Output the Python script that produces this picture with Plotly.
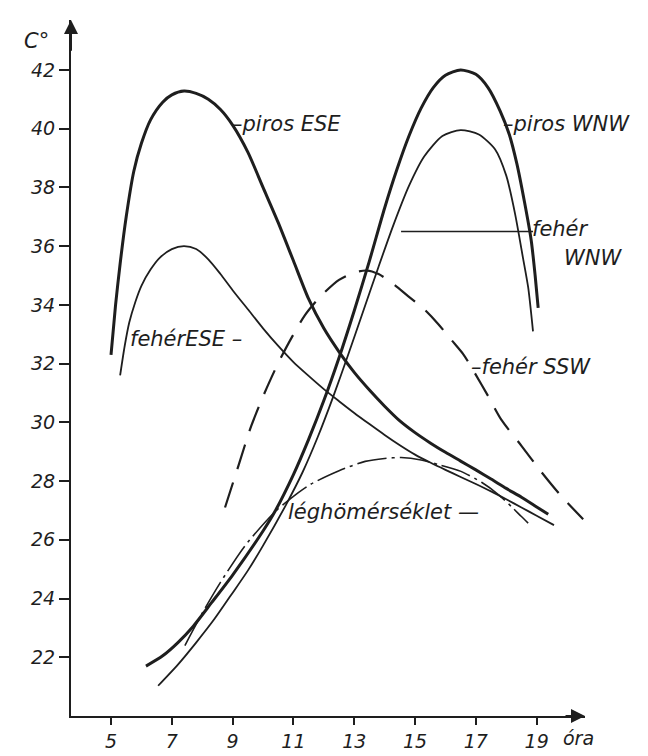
import plotly.graph_objects as go

# hours (óra) and temperatures (C°)
piros_ese_h = [5.0, 5.15, 5.3, 5.5, 5.75, 6.0, 6.3, 6.7, 7.0, 7.4, 7.8, 8.2, 8.6, 9.0, 9.5, 10.0, 10.5, 11.0, 11.5,
               12.0, 12.5, 13.0, 13.5, 14.0, 14.5, 15.0, 15.5, 16.0, 16.5, 17.0, 17.5, 18.0, 18.5, 19.0, 19.38]
piros_ese_t = [32.3, 34.0, 35.4, 37.0, 38.55, 39.5, 40.3, 40.9, 41.15, 41.28, 41.2, 41.0, 40.65, 40.12, 39.2, 38.0,
               36.8, 35.5, 34.2, 33.2, 32.4, 31.7, 31.1, 30.55, 30.05, 29.65, 29.3, 28.98, 28.68, 28.38, 28.07,
               27.75, 27.45, 27.12, 26.87]

feher_ese_h = [5.3, 5.45, 5.6, 5.8, 6.0, 6.3, 6.6, 7.0, 7.4, 7.8, 8.2, 8.6, 9.0, 9.5, 10.0, 10.5, 11.0, 11.5,
               12.0, 12.5, 13.0, 13.5, 14.0, 14.5, 15.0, 15.5, 16.0, 16.5, 17.0, 17.5, 18.0, 18.5, 19.0, 19.57]
feher_ese_t = [31.6, 32.6, 33.4, 34.1, 34.65, 35.2, 35.6, 35.9, 36.0, 35.9, 35.55, 35.05, 34.5, 33.85, 33.2,
               32.6, 32.05, 31.58, 31.13, 30.72, 30.32, 29.94, 29.57, 29.22, 28.9, 28.63, 28.38, 28.14, 27.9,
               27.65, 27.38, 27.1, 26.82, 26.5]

piros_wnw_h = [6.15, 6.7, 7.2, 7.7, 8.3, 9.0, 10.0, 10.4, 11.0, 11.5, 12.0, 12.5, 13.0, 13.5, 14.0, 14.4,
               14.8, 15.2, 15.6, 16.0, 16.5, 17.0, 17.4, 17.8, 18.1, 18.35, 18.6, 18.82, 18.95, 19.05]
piros_wnw_t = [21.7, 22.05, 22.5, 23.05, 23.85, 24.8, 26.3, 26.98, 28.22, 29.42, 30.74, 32.2, 33.8, 35.5, 37.3,
               38.6, 39.75, 40.7, 41.4, 41.82, 42.0, 41.85, 41.4, 40.6, 39.8, 38.8, 37.5, 36.2, 35.0, 33.9]

feher_wnw_h = [6.55, 7.2, 7.8, 8.4, 8.95, 9.5, 10.0, 10.76, 11.3, 11.8, 12.3, 12.8, 13.3, 13.8, 14.3, 14.8,
               15.3, 15.9, 16.5, 17.1, 17.63, 18.0, 18.29, 18.55, 18.72, 18.88]
feher_wnw_t = [21.03, 21.75, 22.5, 23.3, 24.12, 24.95, 25.8, 27.2, 28.3, 29.5, 30.85, 32.3, 33.8, 35.3, 36.75,
               38.05, 39.05, 39.75, 39.95, 39.8, 39.3, 38.4, 37.1, 35.6, 34.6, 33.1]

feher_ssw_h = [8.75, 9.2, 9.61, 10.05, 10.49, 10.95, 11.38, 11.9, 12.5, 13.0, 13.4, 13.8, 14.3, 14.77, 15.3,
               15.76, 16.2, 16.6, 16.97, 17.4, 17.83, 18.5, 19.14, 19.8, 20.53]
feher_ssw_t = [27.1, 28.55, 29.87, 31.0, 32.0, 32.9, 33.65, 34.3, 34.85, 35.1, 35.17, 35.05, 34.7, 34.3, 33.85,
               33.35, 32.8, 32.3, 31.67, 30.9, 30.1, 29.2, 28.33, 27.5, 26.7]

leg_h = [7.43, 8.0, 8.6, 9.41, 10.39, 11.15, 11.58, 12.5, 13.36, 14.0, 14.54, 15.2, 15.8, 16.51, 17.2, 17.73,
         18.2, 18.49, 18.72]
leg_t = [22.4, 23.5, 24.55, 25.8, 26.95, 27.6, 27.9, 28.35, 28.67, 28.77, 28.8, 28.72, 28.55, 28.33, 27.95,
         27.55, 27.1, 26.8, 26.57]

x_ticks = [5, 7, 9, 11, 13, 15, 17, 19]
y_ticks = [22, 24, 26, 28, 30, 32, 34, 36, 38, 40, 42]

ink = '#1e1e1e'
tick_font = dict(family='DejaVu Sans', size=19, color=ink, style='italic')
lab_font = dict(family='DejaVu Sans', size=21, color=ink, style='italic')

def curve(h, t, width, dash='solid'):
    return go.Scatter(x=h, y=t, mode='lines', showlegend=False, hoverinfo='skip',
                      line=dict(color=ink, width=width, dash=dash, shape='spline', smoothing=0.7))

data = [
    curve(piros_ese_h, piros_ese_t, 3),
    curve(feher_ese_h, feher_ese_t, 1.8),
    curve(piros_wnw_h, piros_wnw_t, 3),
    curve(feher_wnw_h, feher_wnw_t, 1.8),
    curve(feher_ssw_h, feher_ssw_t, 2.2, '26px,14px'),
    curve(leg_h, leg_t, 1.6, '30px,5px,3px,5px'),
]

def label(x, y, text):
    return dict(x=x, y=y, xref='x', yref='y', text=text, showarrow=False,
                xanchor='left', yanchor='middle', font=lab_font, borderpad=0)

annotations = [
    label(8.95, 40.15, '–piros ESE'),
    label(17.85, 40.15, '–piros WNW'),
    label(18.8, 36.6, 'fehér'),
    label(19.85, 35.6, 'WNW'),
    label(16.8, 31.9, '–fehér SSW'),
    label(10.8, 26.95, 'léghömérséklet —'),
    label(5.6, 32.85, 'fehérESE –'),
    dict(x=-0.095, y=0.97, xref='paper', yref='paper', text='C°', showarrow=False,
         xanchor='left', yanchor='middle', font=lab_font),
    dict(x=0.988, y=-0.031, xref='paper', yref='paper', text='óra', showarrow=False,
         xanchor='center', yanchor='middle', font=tick_font),
    # axis arrows
    dict(x=3.684, y=43.7, ax=3.684, ay=42.6, xref='x', yref='y', axref='x', ayref='y',
         showarrow=True, arrowhead=2, arrowsize=1.4, arrowwidth=2, arrowcolor=ink, text=''),
    dict(x=20.59, y=20.0, ax=19.9, ay=20.0, xref='x', yref='y', axref='x', ayref='y',
         showarrow=True, arrowhead=2, arrowsize=1.4, arrowwidth=2, arrowcolor=ink, text=''),
]

shapes = [
    # leader line of the "fehér WNW" label
    dict(type='line', xref='x', yref='y', x0=14.54, x1=18.88, y0=36.5, y1=36.5,
         line=dict(color=ink, width=1.5)),
]

layout = go.Layout(
    width=648, height=756,
    margin=dict(l=63, r=71, t=12, b=33),
    paper_bgcolor='white', plot_bgcolor='white',
    showlegend=False,
    xaxis=dict(range=[3.684, 20.59], tickvals=x_ticks, ticks='outside', ticklen=7, tickwidth=2,
               tickcolor=ink, showline=True, linecolor=ink, linewidth=2, showgrid=False,
               zeroline=False, tickfont=tick_font),
    yaxis=dict(range=[20.0, 43.7], tickvals=y_ticks, ticks='outside', ticklen=10, tickwidth=2,
               tickcolor=ink, showline=True, linecolor=ink, linewidth=2, showgrid=False,
               zeroline=False, tickfont=tick_font),
    annotations=annotations,
    shapes=shapes,
)

fig = go.Figure(data=data, layout=layout)
fig.write_html('out.html')
